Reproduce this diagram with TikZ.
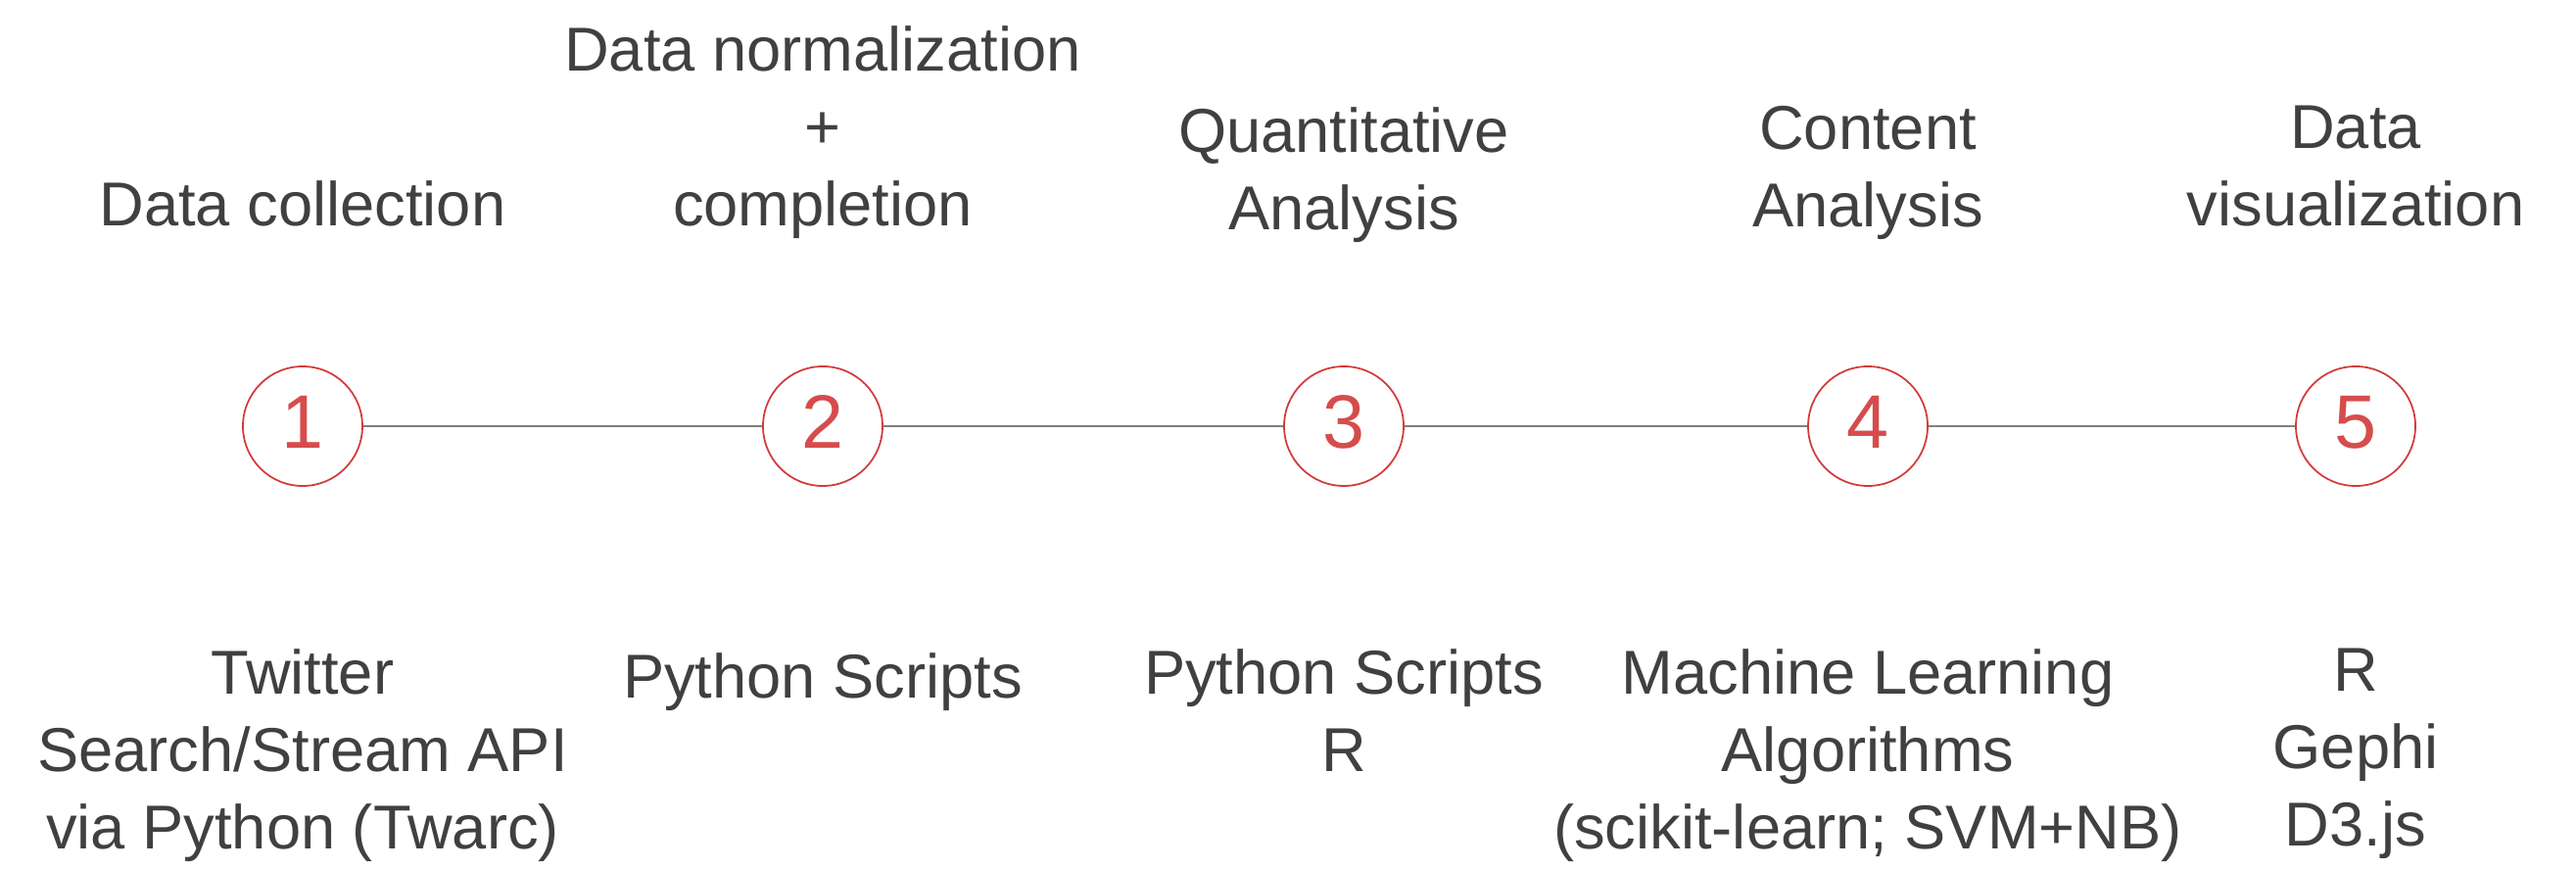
\documentclass[tikz,border=0pt]{standalone}
\usepackage{fontspec}
\setmainfont{Liberation Sans}
\usepackage{xcolor}
\usepackage{tikz}
\definecolor{stepred}{RGB}{212,58,58}
\definecolor{numred}{RGB}{214,76,76}
\definecolor{txtgray}{RGB}{64,64,64}
\definecolor{linegray}{RGB}{128,128,128}
\tikzset{
  stepcircle/.style={
    shape = circle,
    draw = stepred,
    line width = 0.5pt,
    minimum size = 1.22cm,
    inner sep = 0pt,
    text = numred,
    font = \fontsize{22}{26}\selectfont,
    text height = 0.556cm,
    text depth = 0.1cm
  },
  toplabel/.style={
    align = center,
    anchor = south,
    inner sep = 0pt,
    text = txtgray,
    font = \fontsize{18}{22.5}\selectfont,
    execute at end node = \strut
  },
  botlabel/.style={
    align = center,
    anchor = north,
    inner sep = 0pt,
    text = txtgray,
    font = \fontsize{18}{22.5}\selectfont,
    execute at begin node = \strut
  },
  link/.style={
    draw = linegray,
    line width = 0.65pt
  }
}

\begin{document}
\begin{tikzpicture}
        \useasboundingbox (0,0) rectangle (26.3,-8.86);
        % steps
        \node[stepcircle] (c1) at (3.09,-4.35) {1};
        \node[stepcircle] (c2) at (8.40,-4.35) {2};
        \node[stepcircle] (c3) at (13.72,-4.35) {3};
        \node[stepcircle] (c4) at (19.07,-4.35) {4};
        \node[stepcircle] (c5) at (24.05,-4.35) {5};
        \draw[link] (c1)--(c2);
        \draw[link] (c2)--(c3);
        \draw[link] (c3)--(c4);
        \draw[link] (c4)--(c5);
        % what is done
        \node[toplabel] (t1) at (3.09,-2.55) {Data collection};
        \node[toplabel] (t2) at (8.40,-2.55) {Data normalization\\+\\completion};
        \node[toplabel] (t3) at (13.72,-2.59) {Quantitative\\Analysis};
        \node[toplabel] (t4) at (19.07,-2.56) {Content\\Analysis};
        \node[toplabel] (t5) at (24.05,-2.55) {Data\\visualization};
        % tools
        \node[botlabel] (b1) at (3.09,-6.616) {Twitter\\Search/Stream API\\via Python (Twarc)};
        \node[botlabel] (b2) at (8.40,-6.566) {Python Scripts};
        \node[botlabel] (b3) at (13.72,-6.616) {Python Scripts\\R};
        \node[botlabel] (b4) at (19.07,-6.616) {Machine Learning\\Algorithms\\(scikit-learn; SVM+NB)};
        \node[botlabel] (b5) at (24.05,-6.616) {R\\Gephi\\D3.js};
    \end{tikzpicture}
\end{document}
